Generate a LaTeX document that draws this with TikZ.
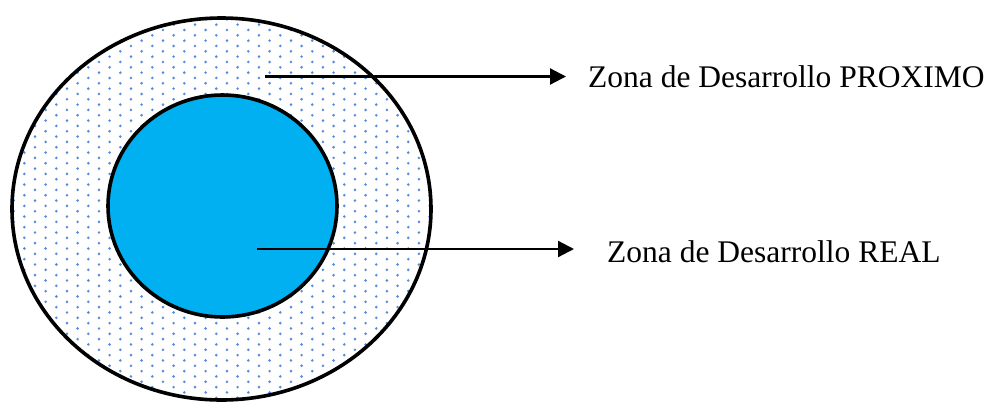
\documentclass[tikz,border=0pt]{standalone}
\usepackage{fontspec}
\setmainfont{Liberation Serif}
\usetikzlibrary{arrows.meta,shapes.geometric}
\definecolor{dotblue}{RGB}{85,140,225}
\definecolor{innercyan}{RGB}{0,176,240}
\tikzset{
  ring/.style={draw=black, line width=3.6pt, ellipse, inner sep=0pt},
  pointer/.style={draw=black, line width=2.2pt, -{Triangle[length=16pt,width=16pt]}},
  label/.style={anchor=base west, inner sep=0pt, font=\fontsize{31.5}{36}\selectfont}
}
\begin{document}
\begin{tikzpicture}[x=1pt,y=-1pt]
\useasboundingbox (0,0) rectangle (991,402);
% outer zone with dot pattern
\begin{scope}
  \clip (221.5,209) ellipse [x radius=209.5, y radius=191];
  \foreach \j in {0,...,74}{
    \pgfmathsetmacro{\yy}{14+5.33*\j}
    \pgfmathsetmacro{\off}{mod(\j,2)*10.67}
    \foreach \i in {0,...,21}{
      \fill[dotblue] ({3+\off+21.33*\i},\yy) circle (1.45);
    }
  }
\end{scope}
\node[ring, minimum width=419pt, minimum height=382pt] (outer) at (221.5,209) {};
\node[ring, fill=innercyan, minimum width=229pt, minimum height=222pt] (inner) at (222.5,206) {};
\coordinate (s1) at (265,76.5);
\coordinate (s2) at (257,249);
\node[label] (t1) at (588,87) {Zona de Desarrollo PROXIMO};
\node[label] (t2) at (607,262) {Zona de Desarrollo REAL};
\coordinate (e1) at (566,76.5);
\coordinate (e2) at (574,249);
\draw[pointer] (s1) -- (e1);
\draw[pointer] (s2) -- (e2);
\end{tikzpicture}
\end{document}
